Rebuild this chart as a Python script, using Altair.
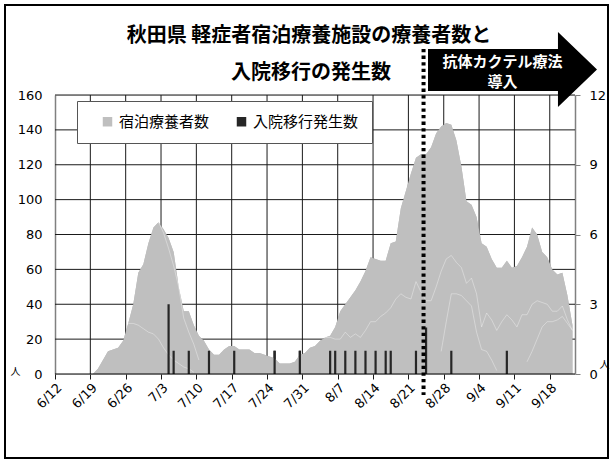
import altair as alt
import pandas as pd

# ---------------- data ----------------
start_label = "6/12"
# daily number of people in the lodging facilities, 6/12 .. 9/22
patients = [0, 0, 0, 0, 0, 0, 0, 0, 3, 8,
            13, 14, 15, 19, 29, 40, 58, 63, 75, 84,
            87, 83, 78, 70, 50, 36, 36, 28, 22, 19,
            14, 11, 11, 14, 16, 16, 14, 14, 14, 12,
            12, 11, 10, 9, 6, 6, 6, 7, 11, 12,
            15, 16, 19, 21, 22, 27, 36, 40, 44, 48,
            53, 59, 67, 66, 65, 65, 75, 76, 95, 105,
            115, 124, 126, 126, 130, 138, 142, 144, 143, 134,
            119, 99, 97, 90, 75, 73, 66, 61, 61, 65,
            61, 62, 67, 73, 84, 80, 70, 67, 60, 57,
            58, 45, 28]

# hospital transfers (right axis)
hosp_dates = ["7/4", "7/5", "7/8", "7/12", "7/17", "7/25", "7/30", "8/5", "8/6", "8/8",
              "8/10", "8/12", "8/14", "8/16", "8/17", "8/22", "8/24", "8/29", "9/9"]
hosp_counts = [3, 1, 1, 1, 1, 1, 1, 1, 1, 1,
               1, 1, 1, 1, 1, 1, 2, 1, 1]

# faint white boundaries inside the grey area (start date, daily values)
inner_starts = ["6/26", "7/2", "8/4", "8/27", "9/13"]
inner_values = [
    [29, 29, 28, 26, 24, 23, 20, 15, 11, 8, 6, 4, 3, 1],
    [87, 81, 72, 62, 50, 32, 24, 17, 8],
    [21, 21, 20, 20, 24, 21, 23, 21, 25, 30, 30, 33, 35, 38, 43, 46, 44, 43, 53, 47,
     42, 42, 50, 59, 66, 68, 64, 61, 52, 55, 46, 27, 35, 31, 25, 30, 34, 31, 27, 34,
     34, 40, 42, 41, 40, 36, 36, 39, 31, 25],
    [13, 30, 46, 46, 45, 42, 39, 24, 14, 13, 8, 2],
    [7, 13, 20, 27, 30, 30, 31, 33, 29, 25],
]

tick_labels = ["6/12", "6/19", "6/26", "7/3", "7/10", "7/17", "7/24", "7/31",
               "8/7", "8/14", "8/21", "8/28", "9/4", "9/11", "9/18"]
left_ticks = [0, 20, 40, 60, 80, 100, 120, 140, 160]
right_ticks = [0, 3, 6, 9, 12]
series_names = ["宿泊療養者数", "入院移行発生数"]
title_lines = ["秋田県 軽症者宿泊療養施設の療養者数と", "入院移行の発生数"]
arrow_lines = ["抗体カクテル療法", "導入"]
arrow_date = "8/25"
unit_label = "人"

# ---------------- helpers ----------------
MONTH_OFFSET = {6: -12, 7: 18, 8: 49, 9: 80}


def day_index(label):
    m, d = (int(v) for v in label.split("/"))
    return MONTH_OFFSET[m] + d


GRAY = "#bfbfbf"
DARK = "#262626"
GRID = "#1a1a1a"
CJK = "Noto Sans CJK JP"
LAT = "DejaVu Sans"
W, H = 520, 279
X_END = 103
Y_MAX, Y2_MAX = left_ticks[-1], right_ticks[-1]

df_area = pd.DataFrame({
    "pos": [day_index(start_label) + i + 0.5 for i in range(len(patients))],
    "count": patients,
    "series": series_names[0],
})
df_hosp = pd.DataFrame({
    "pos": [day_index(d) + 0.5 for d in hosp_dates],
    "count": hosp_counts,
})
rows = []
for k, (s, vals) in enumerate(zip(inner_starts, inner_values)):
    for i, v in enumerate(vals):
        rows.append({"pos": day_index(s) + i + 0.5, "count": v, "line": k})
df_inner = pd.DataFrame(rows)
x_tick_pos = [day_index(t) for t in tick_labels]
df_vgrid = pd.DataFrame({"gx": x_tick_pos[1:]})
df_hgrid = pd.DataFrame({"gy": left_ticks[1:]})
one = pd.DataFrame({"a": [0]})

label_expr = "[" + ",".join("'%s'" % t for t in tick_labels) + "][round(datum.value/7)]"

x_scale = alt.Scale(domain=[0, X_END], nice=False, zero=False)
y_scale = alt.Scale(domain=[0, Y_MAX], nice=False)
y2_scale = alt.Scale(domain=[0, Y2_MAX], nice=False)

x_axis = alt.Axis(values=x_tick_pos, labelExpr=label_expr,
                  grid=False, domain=False,
                  ticks=True, tickColor=GRID, tickSize=5, labelAngle=-45,
                  labelAlign="right", labelBaseline="top", labelPadding=2,
                  labelOverlap=False, labelFont=LAT, labelFontSize=13,
                  labelColor="black", title=None)
y_axis = alt.Axis(values=left_ticks, grid=False,
                  domain=True, domainColor="#808080", domainWidth=1.5,
                  ticks=False, tickSize=0, labelPadding=13, labelOverlap=False,
                  labelFont=LAT, labelFontSize=13, labelColor="black", title=unit_label,
                  titleAngle=0, titleX=-40, titleY=276, titleFont=CJK,
                  titleFontSize=10, titleFontWeight="normal", titleColor="black",
                  titleAlign="center", titleBaseline="middle")
y2_axis = alt.Axis(orient="right", values=right_ticks, grid=False, domain=True,
                   domainColor="#808080", domainWidth=1.5, ticks=True, tickSize=5,
                   tickColor="#808080", labelPadding=9, labelOverlap=False,
                   labelFont=LAT, labelFontSize=13,
                   labelColor="black", title=unit_label, titleAngle=0, titleX=29,
                   titleY=269, titleFont=CJK, titleFontSize=10, titleFontWeight="normal",
                   titleColor="black", titleAlign="center", titleBaseline="middle")

# ---- group 1: grey area (left axis + legend) ----
area = alt.Chart(df_area).mark_area(opacity=1, interpolate="linear").encode(
    x=alt.X("pos:Q", scale=x_scale, axis=x_axis),
    y=alt.Y("count:Q", scale=y_scale, axis=y_axis),
    color=alt.Color("series:N",
                    scale=alt.Scale(domain=series_names, range=[GRAY, DARK]),
                    legend=alt.Legend(orient="none", legendX=22, legendY=6,
                                      direction="horizontal", title=None,
                                      fillColor="white", strokeColor="#555555",
                                      padding=13, symbolType="square", symbolSize=90,
                                      symbolStrokeWidth=0, symbolOffset=10,
                                      labelFont=CJK, labelFontSize=15,
                                      labelColor="black", columnPadding=14,
                                      labelOffset=4)),
)

# ---- group 2: hospital transfers (right axis) ----
bars = alt.Chart(df_hosp).mark_rule(color=DARK, strokeWidth=2.2).encode(
    x=alt.X("pos:Q", scale=x_scale, axis=x_axis),
    y=alt.Y("count:Q", scale=y2_scale, axis=y2_axis),
    y2=alt.datum(0),
)

# ---- group 3: drawing stack (grid, area, bars, annotations), no own axis ----
vgrid = alt.Chart(df_vgrid).mark_rule(color=GRID, strokeWidth=1).encode(
    x=alt.X("gx:Q", scale=x_scale, axis=x_axis),
    y=alt.Y(datum=0, scale=y_scale, axis=None),
    y2=alt.datum(Y_MAX),
)
hgrid = alt.Chart(df_hgrid).mark_rule(color=GRID, strokeWidth=1).encode(
    y=alt.Y("gy:Q", scale=y_scale, axis=None),
    x=alt.X(datum=0, scale=x_scale, axis=x_axis),
    x2=alt.datum(X_END),
)
area_top = alt.Chart(df_area).mark_area(color=GRAY, opacity=1, interpolate="linear").encode(
    x=alt.X("pos:Q", scale=x_scale, axis=x_axis),
    y=alt.Y("count:Q", scale=y_scale, axis=None),
)
inner = alt.Chart(df_inner).mark_line(color="white", strokeWidth=0.7, opacity=0.5).encode(
    x=alt.X("pos:Q", scale=x_scale, axis=x_axis),
    y=alt.Y("count:Q", scale=y_scale, axis=None),
    detail="line:N",
)
bars_top = alt.Chart(df_hosp).transform_calculate(
    scaled="datum.count * %d / %d" % (Y_MAX, Y2_MAX)
).mark_rule(color=DARK, strokeWidth=2.2).encode(
    x=alt.X("pos:Q", scale=x_scale, axis=x_axis),
    y=alt.Y("scaled:Q", scale=y_scale, axis=None),
    y2=alt.datum(0),
)
arrow_path = ("M-1,-0.243L0.538,-0.243L0.538,-0.444L1,0L0.538,0.444"
              "L0.538,0.254L-1,0.254Z")
arrow = alt.Chart(one).mark_point(shape=arrow_path, size=28561, filled=True,
                                  color="black", opacity=1, strokeWidth=0).encode(
    x=alt.value(457.5), y=alt.value(-25.5)
)
axis_line = alt.Chart(one).mark_rule(color="black", strokeWidth=1).encode(
    x=alt.value(0), x2=alt.value(W), y=alt.value(H)
)
dotted = alt.Chart(one).mark_rule(color="black", strokeWidth=4, strokeDash=[3.3, 3.3]).encode(
    x=alt.X(datum=day_index(arrow_date) - 1, scale=x_scale, axis=x_axis),
    y=alt.value(-46), y2=alt.value(300)
)


def label_text(txt, x, y, size, color, weight="bold"):
    return alt.Chart(one).mark_text(color=color, font=CJK, fontSize=size, fontWeight=weight,
                                    align="center", baseline="middle").encode(
        x=alt.value(x), y=alt.value(y), text=alt.value(txt)
    )


arrow_t1 = label_text(arrow_lines[0], 447.5, -33.3, 15, "white")
arrow_t2 = label_text(arrow_lines[1], 447.5, -13.3, 15, "white")
title_t1 = label_text(title_lines[0], 254, -59.5, 20, "black")
title_t2 = label_text(title_lines[1], 256, -22, 20, "black")
frame = alt.Chart(one).mark_rect(fillOpacity=0, stroke="black", strokeWidth=2).encode(
    x=alt.value(-50), x2=alt.value(553), y=alt.value(-90), y2=alt.value(363)
)
stack = alt.layer(vgrid, hgrid, area_top, inner, bars_top, axis_line, arrow, dotted,
                  arrow_t1, arrow_t2, title_t1, title_t2, frame)

chart = alt.layer(area, bars, stack).resolve_scale(y="independent").properties(
    width=W, height=H,
    padding={"left": 55, "top": 95, "right": 37, "bottom": 87},
    autosize=alt.AutoSizeParams(type="none"),
).configure_view(stroke=None).configure(background="white")

chart.save("out.html", embed_options={"renderer": "svg", "actions": False})
